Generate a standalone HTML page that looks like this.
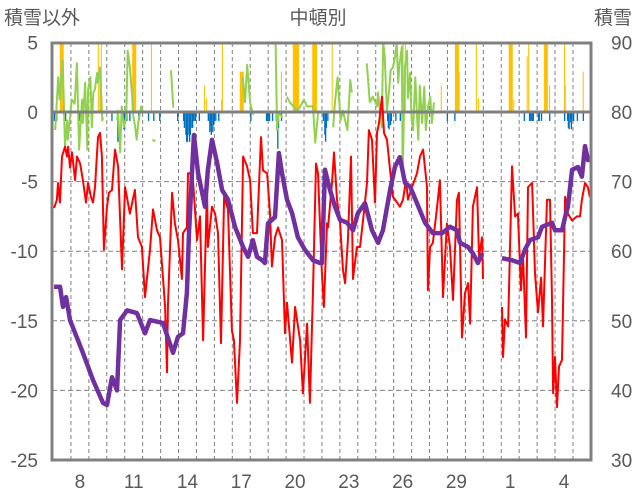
<!DOCTYPE html>
<html><head><meta charset="utf-8">
<style>
html,body{margin:0;padding:0;background:#fff;}
svg{display:block;}
text{font-family:"Liberation Sans","Noto Sans CJK JP",sans-serif;fill:#595959;}
</style></head>
<body>
<svg id="chart" width="636" height="501" viewBox="0 0 636 501" xmlns="http://www.w3.org/2000/svg">
<text x="4" y="24" font-size="19">積雪以外</text>
<text x="318" y="24" font-size="19" text-anchor="middle">中頓別</text>
<text x="632" y="24" font-size="19" text-anchor="end">積雪</text>
<g id="grid"></g>
<g id="bars"></g>
<g id="lines"></g>
<g id="axes"></g>
</svg>
<script>
const dayLabels=["8","11","14","17","20","23","26","29","1","4"];
const dayLabelIdx=[1,4,7,10,13,16,19,22,25,28];
const leftTicks=[5,0,-5,-10,-15,-20,-25];
const rightTicks=[90,80,70,60,50,40,30];
const orangeHours=[9,10,11,12,13,60,62,63,64,106,107,108,109,110,131,202,205,225,226,250,251,252,253,254,305,321,322,323,324,325,326,327,328,347,348,349,350,351,352,373,468,471,519,538,539,540,541,542,543,566,569,610,611,612,613,614,616,634,636,657,658,659,660,661,664,684,685,709];
const orangeVals=[5,5,5,5,5,5,3,3,5,5,5,5,5,5,5,1.9,1,0.9,5,2.9,2.9,2.9,2.9,2.9,2.9,5,5,5,5,5,5,5,5,5,5,5,5,5,5,5,5,5,1.9,5,5,5,5,5,2.9,5,1,5,5,5,5,5,0.9,4,5,5,5,5,5,5,1.9,5,1.9,2.9];
const blueHours=[1,3,4,16,35,78,86,94,95,96,98,102,114,127,134,142,166,174,175,177,178,179,181,182,183,185,186,187,189,190,195,207,209,210,211,213,214,215,217,221,264,285,286,288,289,293,298,300,301,305,361,363,364,365,367,440,447,448,449,451,452,458,464,527,537,630,637,638,640,641,642,649,650,653,664,684,688,689,690,692,693,695,696,701,709];
const blueVals=[-0.5,-0.5,-0.5,-0.5,-0.5,-0.5,-2,-1.1,-1.1,-0.5,-0.5,-0.5,-0.5,-0.5,-0.5,-0.5,-0.5,-0.5,-1,-1.5,-2,-2,-1.5,-2,-1.5,-1,-1,-0.5,-0.5,-0.5,-0.5,-0.5,-1.3,-0.8,-1.5,-1.3,-0.8,-0.5,-0.5,-0.5,-0.5,-0.5,-0.5,-0.5,-0.5,-0.5,-0.5,-2.5,-1,-0.5,-0.5,-1.5,-2,-1,-0.5,-0.5,-0.5,-1,-1.1,-0.8,-0.5,-0.5,-0.5,-0.5,-0.5,-0.5,-0.5,-0.5,-0.5,-0.5,-0.5,-0.5,-0.5,-0.5,-0.5,-0.5,-0.5,-1,-1.1,-0.6,-1.1,-0.5,-0.5,-0.5,-0.5];
const greenHours=[3,7,9,12,13,16,19,20,25,29,32,35,39,40,43,46,47,50,52,54,56,59,60,63,66,67,null,86,87,90,92,95,98,100,103,106,107,110,112,114,118,120,null,133,137,null,158,161,null,254,257,260,264,268,null,298,300,302,307,null,313,317,327,331,336,340,348,351,355,null,375,377,381,385,388,394,398,400,null,420,424,428,434,435,440,442,444,447,450,452,455,458,460,462,464,467,468,471,474,475,478,480,482,485,487,489,491,494,497,499,502,505,507,510];
const greenVals=[-1.3,2.5,0.9,3.2,3.7,-2.5,-0.6,-2,0.9,0.6,3.5,-2.7,0.9,-0.8,2.1,-2.7,1.6,2.5,-1.1,1.4,1.6,2.8,2.1,3.2,-0.6,-0.4,null,-0.6,0.1,-2.9,0.4,-1.1,-0.4,4.4,3.2,1.1,-0.1,-1.1,-2,-0.8,0.4,0,null,-2,-2.1,null,3,0.3,null,2.5,0.7,3.4,0.6,-0.2,null,5,-1.3,0,-0.4,null,1.1,0.7,0.1,0.4,0.9,0.4,0.4,-2.2,0,null,-1.1,0.5,2.5,-0.6,0.1,-1.3,2.3,1.4,null,3.5,0.7,1.1,0.4,1.4,-1.1,5,4,0.1,1.6,3,3.2,4,5,2.1,3.5,4.7,-4.7,3.2,4.4,1,2.8,-0.6,-1.3,2.5,0,-2,1.9,-0.8,1.8,-1.3,0.4,1.1,-0.8,0.7];
const redDays=[0.06,0.22,0.28,0.39,0.50,0.67,0.78,0.84,0.95,1.06,1.23,1.34,1.51,1.67,1.84,1.95,2.12,2.23,2.34,2.51,2.62,2.73,2.84,3.01,3.12,3.29,3.46,3.63,3.85,4.02,4.29,4.57,4.74,4.96,5.13,5.41,5.58,5.80,5.97,6.25,6.36,6.41,6.64,6.80,6.97,7.19,7.25,7.47,7.53,7.64,7.81,8.03,8.20,8.37,8.59,8.64,8.87,9.04,9.20,9.37,9.54,9.76,9.98,10.09,10.26,10.43,10.60,10.82,10.99,11.15,11.38,11.60,11.71,11.94,12.10,12.21,12.38,12.55,12.77,12.94,13.05,13.33,13.50,13.78,13.94,14.17,14.33,14.50,14.67,14.78,15.00,15.11,15.28,15.34,15.56,15.67,15.84,16.01,16.17,16.29,16.45,16.62,16.73,16.95,17.12,17.29,17.51,17.62,17.79,17.96,18.07,18.18,18.35,18.46,18.63,18.80,18.96,19.19,19.35,19.52,19.69,19.80,20.02,20.30,20.47,20.64,20.86,20.91,21.03,21.19,21.42,21.58,21.75,21.97,22.14,22.31,22.53,22.64,22.81,22.98,23.15,23.26,23.42,23.65,23.76,23.93,23.98,null,25.04,25.10,25.21,25.38,25.60,25.77,25.93,26.10,26.21,26.38,26.49,26.72,26.88,27.05,27.22,27.33,27.55,27.72,27.83,27.89,28.00,28.11,28.22,28.39,28.56,28.72,28.95,29.22,29.39,29.50,29.67,29.83,29.94];
const redVals=[-6.9,-6.3,-5.1,-6.5,-3.2,-2.5,-3.2,-2.5,-4,-2.9,-4.9,-3.2,-3.7,-4.9,-6.5,-5.1,-6.1,-6.5,-5.4,-1.8,-1.5,-3.2,-9.9,-6.8,-5.8,-5.6,-2.7,-3.9,-11.3,-5.4,-7.3,-5.6,-9,-9.7,-13.3,-9.9,-7,-8.5,-9,-14,-18.7,-14,-5.8,-8,-9.2,-12,-8.7,-8.3,-4.4,-4.4,-4.9,-9.2,-7.5,-16.4,-5.4,-9.7,-6.8,-7.3,-8.7,-16.6,-6.1,-7,-15.7,-16.4,-20.9,-16.4,-3.2,-3.9,-4.9,-8.7,-8.7,-1.8,-4.2,-4.4,-7.3,-11.1,-9,-8.3,-9.2,-15.9,-13.7,-18,-14,-16.4,-20.2,-15.2,-20.9,-12.8,-3.7,-4.4,-11.6,-14,-8,-8.3,-5.1,-2.9,-6.3,-8,-11.3,-12.3,-9.2,-3.2,-12,-9.7,-9.7,-7.8,-5.1,-1.3,-2,-6.5,-1.5,-0.8,1.1,-1.5,-2,-4.2,-6.1,-6.5,-6.8,-6.3,-4.9,-6.3,-5.4,-4.4,-3.2,-2.7,-5.4,-12.8,-9.7,-9.4,-6.8,-4.9,-13.3,-8,-9.7,-13.5,-6.3,-5.8,-16.2,-13,-12.3,-15.2,-6.8,-5.4,-10.4,-9,-12,null,-14,-17.6,-14.9,-15.4,-3.9,-7.5,-7.3,-12.8,-10.1,-16.2,-5.4,-5.1,-11.6,-14.4,-11.9,-15.4,-6.3,-6.3,-13.5,-20.2,-17.6,-21.2,-18.3,-17.8,-6.1,-7.3,-7.8,-7.5,-7.5,-6.3,-5.1,-5.4,-6.1];
const snowDays=[0.06,0.39,0.56,0.73,0.95,1.67,2.23,2.79,3.01,3.29,3.57,3.74,4.13,4.68,5.13,5.41,6.13,6.69,6.97,7.25,7.47,7.59,7.75,7.86,8.09,8.48,8.64,8.87,9.15,9.43,9.76,10.15,10.60,10.88,11.15,11.38,11.66,11.82,11.99,12.38,12.60,12.77,13.05,13.33,13.66,14.05,14.50,14.89,15.00,15.17,15.45,15.73,16.01,16.40,16.73,17.01,17.40,17.79,18.13,18.40,18.80,19.07,19.35,19.63,19.91,20.30,20.75,21.19,21.70,22.14,22.53,22.70,23.15,23.42,23.70,23.93,null,25.04,25.60,26.05,26.32,26.60,27.05,27.27,27.83,28.00,28.39,28.56,28.72,28.95,29.28,29.50,29.67,29.83,29.95];
const snowVals=[54.9,54.9,52,53.4,50.1,45.4,41.5,38.2,37.9,41.9,40,50.1,51.5,51.1,48.2,50.1,49.7,45.4,47.7,48.2,54,63,71.2,76.7,71.2,66.4,71.7,76,72.7,68.8,67.4,63.5,60.6,59.2,61.6,59.2,58.7,58.3,64,64.9,74.1,71.2,67.4,65.5,62,60.2,58.7,58.3,58.3,71.7,68.8,66.4,64.5,64.1,63,65.5,66.9,63,61.2,63,68.8,72.1,73.5,69.8,69.3,66.9,64.1,62.6,62.6,63.5,63,61.2,60.6,59.7,58.3,59.7,null,59,58.7,58.3,60.2,61.6,62,63.5,64.1,63,63,64.9,66.4,71.7,72.1,70.7,75.1,73.1,73.1];

const NS="http://www.w3.org/2000/svg";
const X0=53, DAYW=17.93, PL=52, PR=591, PT=43, PB=460;
function xDay(d){return X0+d*DAYW;}
function xHour(h){return X0+h*DAYW/24;}
function yL(v){return 112-v*13.92;}
function yR(r){return 460-(r-30)*6.96;}
function mk(tag,attrs,parent){const e=document.createElementNS(NS,tag);for(const k in attrs)e.setAttribute(k,attrs[k]);parent.appendChild(e);return e;}
const grid=document.getElementById('grid'),bars=document.getElementById('bars'),lines=document.getElementById('lines'),axes=document.getElementById('axes');

for(let k=1;k<30;k++){
  const l=mk('line',{x1:xDay(k),x2:xDay(k),y1:PT,y2:PB,stroke:'#808080','stroke-width':1,'stroke-dasharray':'4,3'},grid);
  
  
}
leftTicks.forEach(v=>{
  if(v<0&&v>-25){
    const l=mk('line',{x1:PL,x2:PR,y1:yL(v),y2:yL(v),stroke:'#808080','stroke-width':1,'stroke-dasharray':'5,3'},grid);
    
    
  }
});
const hw=DAYW/24;
orangeHours.forEach((h,i)=>{
  const v=Math.min(orangeVals[i],5.1);
  const r=mk('rect',{x:xHour(h),y:yL(v),width:hw+0.3,height:yL(0)-yL(v),fill:'#FFC000'},bars);
  
  
});
blueHours.forEach((h,i)=>{
  const v=blueVals[i];
  const r=mk('rect',{x:xHour(h),y:yL(0),width:hw+0.6,height:yL(v)-yL(0)+2,fill:'#0070C0'},bars);
  
  
});
function pathFrom(xs,vs,fx,fy){
  let d='',pen=false;
  for(let i=0;i<xs.length;i++){
    if(xs[i]===null||vs[i]===null){pen=false;continue;}
    d+=(pen?'L':'M')+fx(xs[i]).toFixed(1)+' '+fy(vs[i]).toFixed(1)+' ';pen=true;
  }
  return d;
}
const clip=mk('clipPath',{id:'pc'},document.getElementById('chart'));
mk('rect',{x:PL,y:PT,width:PR-PL,height:PB-PT},clip);
const g=mk('path',{d:pathFrom(greenHours,greenVals,xHour,v=>yL(Math.min(v,5))),fill:'none',stroke:'#92D050','stroke-width':2,'stroke-linejoin':'round','clip-path':'url(#pc)'},lines);


const zl=mk('line',{x1:PL,x2:PR,y1:yL(0),y2:yL(0),stroke:'#808080','stroke-width':3},lines);


const rp=mk('path',{d:pathFrom(redDays,redVals,xDay,yL),fill:'none',stroke:'#FF0000','stroke-width':2,'stroke-linejoin':'round'},lines);


const pp=mk('path',{d:pathFrom(snowDays,snowVals,xDay,yR),fill:'none',stroke:'#7030A0','stroke-width':4.5,'stroke-linejoin':'round'},lines);



const fr=mk('rect',{x:PL,y:PT,width:PR-PL,height:PB-PT,fill:'none',stroke:'#808080','stroke-width':3},axes);


leftTicks.forEach(v=>{
  const t=mk('text',{x:38,y:yL(v)+7,'font-size':19,'text-anchor':'end'},axes);t.textContent=v;
  
  
});
rightTicks.forEach((r,i)=>{
  const t=mk('text',{x:611,y:yR(r)+7,'font-size':19},axes);t.textContent=r;
  
  
});
dayLabels.forEach((s,i)=>{
  const t=mk('text',{x:xDay(dayLabelIdx[i]+0.5),y:488,'font-size':19,'text-anchor':'middle'},axes);t.textContent=s;
  
  
});
</script>
</body></html>
